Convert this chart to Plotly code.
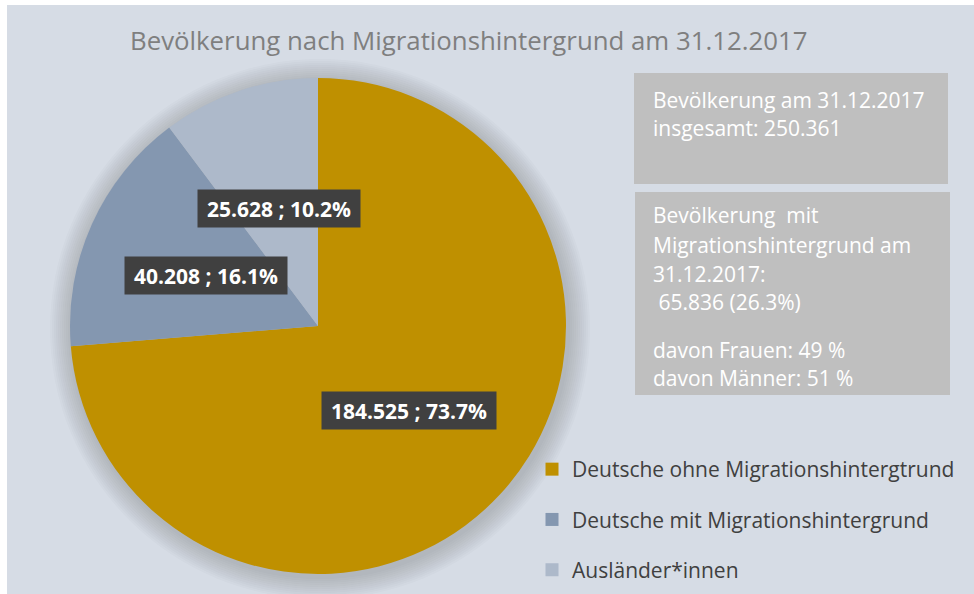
import plotly.graph_objects as go

categories = ["Deutsche ohne Migrationshintergtrund", "Deutsche mit Migrationshintergrund", "Ausländer*innen"]
values = [184525, 40208, 25628]
colors = ["#bf9000", "#8497b0", "#adb9ca"]
title_text = "Bevölkerung nach Migrationshintergrund am 31.12.2017"
box1_lines = ["Bevölkerung am 31.12.2017", "insgesamt: 250.361"]
box2_lines = ["Bevölkerung  mit", "Migrationshintergrund am", "31.12.2017:", " 65.836 (26.3%)"]
box2_extra = ["davon Frauen: 49 %", "davon Männer: 51 %"]

W, H = 967, 589
OX, OY = 7, 5
FONT = "Open Sans"

def px(x):
    return (x - OX) / W

def py(y):
    return 1 - (y - OY) / H

total = sum(values)
label_texts = [f"{v:,}".replace(",", ".") + f" ; {v / total * 100:.1f}%" for v in values]
label_pos = [(409, 410), (206, 275), (279, 209)]
label_w = [164, 152, 152]

fig = go.Figure()
fig.add_trace(go.Pie(
    labels=categories, values=values, sort=False, direction="clockwise", rotation=0,
    marker=dict(colors=colors, line=dict(width=0)),
    textinfo="none", hoverinfo="label+value+percent", showlegend=False,
    domain=dict(x=[px(70), px(566)], y=[py(574), py(78)]),
))

# legend entries
for i, (c, col) in enumerate(zip(categories, colors)):
    fig.add_trace(go.Scatter(
        x=[None], y=[None], mode="markers", name=c, legendgroup=f"g{i}",
        marker=dict(symbol="square", size=13, color=col, line=dict(width=0)), showlegend=True,
    ))

shapes = []
# soft shadow behind pie
cx, cy, r = 320, 329, 248
for k in range(22, 0, -2):
    shapes.append(dict(type="circle", xref="paper", yref="paper", layer="below",
                       x0=px(cx - r - k), x1=px(cx + r + k), y0=py(cy + r + k), y1=py(cy - r - k),
                       fillcolor="rgba(40,50,75,0.018)", line=dict(width=0)))
shapes.append(dict(type="rect", xref="paper", yref="paper", x0=px(634), x1=px(948), y0=py(184), y1=py(73),
                   fillcolor="#bfbfbf", line=dict(width=0)))
shapes.append(dict(type="rect", xref="paper", yref="paper", x0=px(635), x1=px(950), y0=py(395), y1=py(192),
                   fillcolor="#bfbfbf", line=dict(width=0)))

annotations = []
annotations.append(dict(text=title_text, x=px(469), y=py(40), xref="paper", yref="paper",
                        xanchor="center", yanchor="middle",
                        showarrow=False, font=dict(family=FONT, size=25.8, color="#7f7f7f")))
for t, (x, y), w in zip(label_texts, label_pos, label_w):
    annotations.append(dict(text=f"<b>{t}</b>", x=px(x), y=py(y), xref="paper", yref="paper",
                            xanchor="center", yanchor="middle", width=w, height=27,
                            showarrow=False, bgcolor="#404040", borderpad=5,
                            font=dict(family=FONT, size=21, color="white")))
for t, y in zip(box1_lines, [100, 128]):
    annotations.append(dict(text=t, x=px(651), y=py(y), xref="paper", yref="paper",
                            xanchor="left", yanchor="middle",
                            showarrow=False, font=dict(family=FONT, size=21, color="white")))
for t, y in zip(box2_lines + box2_extra, [215, 245, 274, 302, 350, 378]):
    annotations.append(dict(text=t, x=px(651), y=py(y), xref="paper", yref="paper",
                            xanchor="left", yanchor="middle",
                            showarrow=False, font=dict(family=FONT, size=21, color="white")))

fig.update_layout(
    width=W, height=H, margin=dict(l=0, r=0, t=0, b=0),
    paper_bgcolor="#d6dce5", plot_bgcolor="rgba(0,0,0,0)",
    xaxis=dict(visible=False), yaxis=dict(visible=False),
    shapes=shapes, annotations=annotations,
    legend=dict(x=px(532), y=py(449), xanchor="left", yanchor="top", tracegroupgap=20,
                bgcolor="rgba(0,0,0,0)", font=dict(family=FONT, size=21, color="#404040"),
                itemwidth=30),
)
fig.write_html("out.html", post_script="document.body.style.margin='5px 0 0 7px';")
